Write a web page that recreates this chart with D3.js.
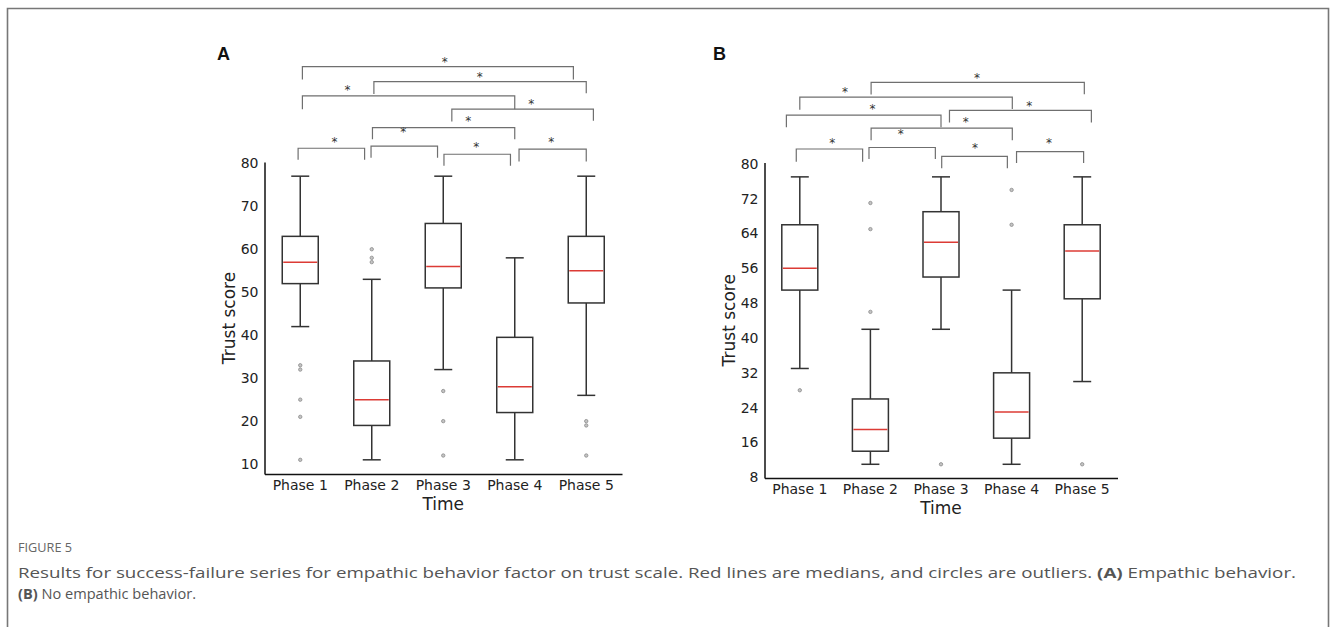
<!DOCTYPE html>
<html>
<head>
<meta charset="utf-8">
<script src="https://cdn.jsdelivr.net/npm/d3@7"></script>
<style>
  body { margin: 0; background: #fff; }
  svg { display: block; }
</style>
</head>
<body>
<svg id="chart" width="1336" height="627"></svg>
<script>
// ---- data ----
const phases = ["Phase 1", "Phase 2", "Phase 3", "Phase 4", "Phase 5"];

// panel A: empathic behavior
const aLow = [42, 11, 32, 11, 26];
const aQ1 = [52, 19, 51, 22, 47.5];
const aMed = [57, 25, 56, 28, 55];
const aQ3 = [63, 34, 66, 39.5, 63];
const aHigh = [77, 53, 77, 58, 77];
const aOutliers = [[33, 32, 25, 21, 11], [60, 58, 57], [27, 20, 12], [], [20, 19, 12]];
const aTicks = [10, 20, 30, 40, 50, 60, 70, 80];
// significance brackets: x in phase units, heights in score units
const aBrackets = [
  { x1: 1.03, x2: 4.82, top: 102.5, endL: 99.5, endR: 99.5, sx: 3.02, sy: 103.9 },
  { x1: 2.03, x2: 5.0, top: 99.0, endL: 96.1, endR: 96.3, sx: 3.51, sy: 100.3 },
  { x1: 1.03, x2: 4.0, top: 95.7, endL: 92.6, endR: 92.6, sx: 1.66, sy: 97.2 },
  { x1: 3.12, x2: 5.1, top: 92.6, endL: 89.7, endR: 89.9, sx: 4.23, sy: 94.0 },
  { x1: 2.01, x2: 4.0, top: 88.3, endL: 85.6, endR: 85.6, sx: 3.35, sy: 90.1 },
  { x1: 0.97, x2: 1.9, top: 83.5, endL: 80.8, endR: 80.8, sx: 1.48, sy: 85.3 },
  { x1: 1.99, x2: 2.92, top: 84.0, endL: 81.3, endR: 81.3, sx: 2.44, sy: 87.4 },
  { x1: 3.01, x2: 3.94, top: 82.1, endL: 79.4, endR: 79.4, sx: 3.46, sy: 84.0 },
  { x1: 4.06, x2: 5.0, top: 83.3, endL: 80.4, endR: 80.4, sx: 4.51, sy: 85.1 }
];

// panel B: no empathic behavior
const bLow = [33, 11, 42, 11, 30];
const bQ1 = [51, 14, 54, 17, 49];
const bMed = [56, 19, 62, 23, 60];
const bQ3 = [66, 26, 69, 32, 66];
const bHigh = [77, 42, 77, 51, 77];
const bOutliers = [[28], [71, 65, 46], [11], [74, 66], [11]];
const bTicks = [8, 16, 24, 32, 40, 48, 56, 64, 72, 80];
const bBrackets = [
  { x1: 2.01, x2: 5.03, top: 98.7, endL: 95.9, endR: 96.0, sx: 3.51, sy: 99.9 },
  { x1: 1.0, x2: 4.01, top: 95.3, endL: 92.4, endR: 92.6, sx: 1.64, sy: 96.8 },
  { x1: 0.81, x2: 3.0, top: 91.2, endL: 88.4, endR: 88.4, sx: 2.03, sy: 92.8 },
  { x1: 3.12, x2: 5.13, top: 92.25, endL: 89.5, endR: 89.5, sx: 4.25, sy: 93.6 },
  { x1: 2.01, x2: 4.01, top: 88.2, endL: 85.4, endR: 85.4, sx: 3.35, sy: 89.9 },
  { x1: 0.95, x2: 1.89, top: 83.4, endL: 80.5, endR: 80.5, sx: 1.46, sy: 85.1 },
  { x1: 1.98, x2: 2.92, top: 83.75, endL: 81.1, endR: 81.1, sx: 2.43, sy: 87.1 },
  { x1: 3.01, x2: 3.94, top: 81.7, endL: 79.0, endR: 79.0, sx: 3.48, sy: 83.8 },
  { x1: 4.07, x2: 5.02, top: 82.8, endL: 80.2, endR: 80.2, sx: 4.53, sy: 84.9 }
];

const svg = d3.select("#chart");
const tickFont = "'DejaVu Sans', sans-serif";

// outer frame of the figure
svg.append("path")
  .attr("d", "M7.5,627 V8.5 H1328.5 V627")
  .attr("fill", "none")
  .attr("stroke", "#777")
  .attr("stroke-width", 1.6);

function drawPanel(p) {
  const g = svg.append("g");

  const x = d3.scaleBand().domain(phases).range([p.left, p.right]);
  const bw = x.bandwidth();
  const cx = d => x(d) + bw / 2;
  const xp = d3.scaleLinear().domain([1, 5]).range([cx(phases[0]), cx(phases[4])]);
  const y = d3.scaleLinear().domain(p.yDomain).range([p.bottom, p.top]);

  const boxW = 36, capW = 18;

  // axes
  const ya = g.append("g")
    .attr("transform", "translate(" + p.left + ",0)")
    .call(d3.axisLeft(y).tickValues(p.ticks).tickSize(0).tickSizeOuter(0).tickPadding(6));
  const xa = g.append("g")
    .attr("transform", "translate(0," + p.bottom + ")")
    .call(d3.axisBottom(x).tickSize(0).tickSizeOuter(0).tickPadding(6));
  [ya, xa].forEach(a => {
    a.select(".domain").attr("stroke", "#111").attr("stroke-width", 1.5);
    a.selectAll("text").attr("font-family", tickFont).attr("font-size", 14).attr("fill", "#222");
  });

  g.append("text")
    .attr("transform", "translate(" + (p.left - 36) + "," + (p.top + p.bottom) / 2 + ") rotate(-90)")
    .attr("text-anchor", "middle")
    .attr("dominant-baseline", "central")
    .attr("font-family", tickFont)
    .attr("font-size", 17)
    .attr("fill", "#222")
    .text("Trust score");

  g.append("text")
    .attr("x", (p.left + p.right) / 2)
    .attr("y", p.bottom + 36)
    .attr("text-anchor", "middle")
    .attr("font-family", tickFont)
    .attr("font-size", 17)
    .attr("fill", "#222")
    .text("Time");

  g.append("text")
    .attr("x", p.labelX)
    .attr("y", 60)
    .attr("font-family", "'Liberation Sans', Arial, sans-serif")
    .attr("font-weight", "bold")
    .attr("font-size", 18)
    .attr("fill", "#111")
    .text(p.label);

  // boxes
  const stats = phases.map((ph, i) => ({
    ph, lo: p.low[i], q1: p.q1[i], med: p.med[i], q3: p.q3[i], hi: p.high[i], out: p.outliers[i]
  }));
  const box = g.selectAll(".box").data(stats).enter().append("g").attr("class", "box");

  box.append("line")
    .attr("x1", d => cx(d.ph)).attr("x2", d => cx(d.ph))
    .attr("y1", d => y(d.q3)).attr("y2", d => y(d.hi))
    .attr("stroke", "#333").attr("stroke-width", 1.5);
  box.append("line")
    .attr("x1", d => cx(d.ph)).attr("x2", d => cx(d.ph))
    .attr("y1", d => y(d.q1)).attr("y2", d => y(d.lo))
    .attr("stroke", "#333").attr("stroke-width", 1.5);
  box.append("line")
    .attr("x1", d => cx(d.ph) - capW / 2).attr("x2", d => cx(d.ph) + capW / 2)
    .attr("y1", d => y(d.hi)).attr("y2", d => y(d.hi))
    .attr("stroke", "#333").attr("stroke-width", 1.5);
  box.append("line")
    .attr("x1", d => cx(d.ph) - capW / 2).attr("x2", d => cx(d.ph) + capW / 2)
    .attr("y1", d => y(d.lo)).attr("y2", d => y(d.lo))
    .attr("stroke", "#333").attr("stroke-width", 1.5);
  box.append("rect")
    .attr("x", d => cx(d.ph) - boxW / 2)
    .attr("width", boxW)
    .attr("y", d => y(d.q3))
    .attr("height", d => y(d.q1) - y(d.q3))
    .attr("fill", "none")
    .attr("stroke", "#333").attr("stroke-width", 1.5);
  box.append("line")
    .attr("x1", d => cx(d.ph) - boxW / 2 + 1).attr("x2", d => cx(d.ph) + boxW / 2 - 1)
    .attr("y1", d => y(d.med)).attr("y2", d => y(d.med))
    .attr("stroke", "#dc3b35").attr("stroke-width", 1.5);
  box.selectAll("circle").data(d => d.out.map(v => ({ ph: d.ph, v })))
    .enter().append("circle")
    .attr("cx", d => cx(d.ph))
    .attr("cy", d => y(d.v))
    .attr("r", 1.7)
    .attr("fill", "#c4c4c4")
    .attr("stroke", "#8a8a8a")
    .attr("stroke-width", 0.8);

  // significance brackets
  const br = g.selectAll(".bracket").data(p.brackets).enter().append("g").attr("class", "bracket");
  br.append("path")
    .attr("d", d => "M" + xp(d.x1) + "," + y(d.endL) + " V" + y(d.top) + " H" + xp(d.x2) + " V" + y(d.endR))
    .attr("fill", "none")
    .attr("stroke", "#6f6f6f")
    .attr("stroke-width", 1.2);
  br.append("text")
    .attr("x", d => xp(d.sx))
    .attr("y", d => y(d.sy) + 5)
    .attr("text-anchor", "middle")
    .attr("font-family", tickFont)
    .attr("font-size", 12)
    .attr("fill", "#333")
    .text("*");
}

drawPanel({
  label: "A", labelX: 217,
  left: 264.5, right: 622, top: 162, bottom: 474, yDomain: [7.7, 80.3],
  ticks: aTicks, low: aLow, q1: aQ1, med: aMed, q3: aQ3, high: aHigh,
  outliers: aOutliers, brackets: aBrackets
});

drawPanel({
  label: "B", labelX: 713,
  left: 764.5, right: 1117.5, top: 162.5, bottom: 478, yDomain: [7.85, 80.3],
  ticks: bTicks, low: bLow, q1: bQ1, med: bMed, q3: bQ3, high: bHigh,
  outliers: bOutliers, brackets: bBrackets
});

// caption
const capFont = "'Open Sans', 'Noto Sans', sans-serif";
svg.append("text")
  .attr("x", 18).attr("y", 552)
  .attr("font-family", capFont).attr("font-size", 12)
  .attr("fill", "#666")
  .attr("textLength", 54)
  .attr("lengthAdjust", "spacingAndGlyphs")
  .text("FIGURE 5");

const line2 = svg.append("text")
  .attr("x", 18).attr("y", 578)
  .attr("font-family", capFont).attr("font-size", 15)
  .attr("fill", "#555")
  .attr("textLength", 1278)
  .attr("lengthAdjust", "spacingAndGlyphs");
line2.append("tspan").text("Results for success-failure series for empathic behavior factor on trust scale. Red lines are medians, and circles are outliers. ");
line2.append("tspan").attr("font-weight", "bold").text("(A)");
line2.append("tspan").text(" Empathic behavior.");

const line3 = svg.append("text")
  .attr("x", 18).attr("y", 599)
  .attr("font-family", capFont).attr("font-size", 15)
  .attr("fill", "#555")
  .attr("textLength", 178)
  .attr("lengthAdjust", "spacingAndGlyphs");
line3.append("tspan").attr("font-weight", "bold").text("(B)");
line3.append("tspan").text(" No empathic behavior.");
</script>
</body>
</html>
